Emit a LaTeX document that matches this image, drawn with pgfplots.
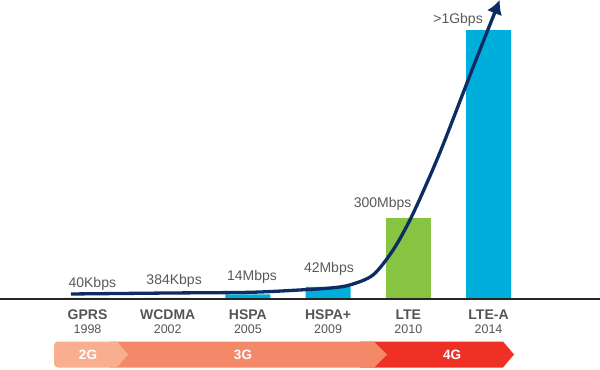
\documentclass[border=0pt]{standalone}
\usepackage{pgfplots}
\pgfplotsset{compat=1.18}
\usepackage{fontspec}
\setmainfont{Liberation Sans}
\usetikzlibrary{arrows.meta}
\definecolor{barblue}{HTML}{00AEDB}
\definecolor{bargreen}{HTML}{86C441}
\definecolor{navy}{HTML}{0C2C63}
\definecolor{valgray}{HTML}{595959}
\definecolor{namegray}{HTML}{555555}
\definecolor{ph2}{HTML}{F9AE8F}
\definecolor{ph3}{HTML}{F4896A}
\definecolor{ph4}{HTML}{EE3124}
\begin{document}
\begin{tikzpicture}[x=1bp,y=1bp]
\path[use as bounding box] (0,-71) rectangle (600,298);
% phase bar
\fill[ph4] (360,-43.5) -- (503,-43.5) -- (514,-56.5) -- (503,-69.5) -- (360,-69.5) -- cycle;
\fill[ph3] (110,-43.5) -- (374,-43.5) -- (387,-56.5) -- (374,-69.5) -- (110,-69.5) -- cycle;
\fill[ph2, rounded corners=4bp] (117,-43.5) -- (58,-43.5) -- (54,-43.5) -- (54,-69.5) -- (117,-69.5) [sharp corners] -- (128,-56.5) -- cycle;
\node[text=white, font=\bfseries\fontsize{13.5bp}{15bp}\selectfont] at (88,-56.5) {2G};
\node[text=white, font=\bfseries\fontsize{13.5bp}{15bp}\selectfont] at (243,-56.5) {3G};
\node[text=white, font=\bfseries\fontsize{13.5bp}{15bp}\selectfont] at (452,-56.5) {4G};
\begin{axis}[
  at={(0,0)}, anchor=south west,
  scale only axis, width=600bp, height=298bp,
  xmin=-1.091, xmax=6.39, ymin=0, ymax=1112,
  axis lines=none, clip=false,
  ybar, bar shift=0pt, bar width=45bp,
]
\addplot[fill=barblue, draw=none] coordinates {(0,0.04) (1,0.384) (2,14) (3,42) (5,1000)};
\addplot[fill=bargreen, draw=none] coordinates {(4,300)};
\draw[color=black!85, line width=1.5bp] (axis cs:-1.091,-3) -- (axis cs:6.39,-3);
\addplot[sharp plot, smooth, navy, line width=3.3bp, -{Latex[length=14bp,width=16bp]}] coordinates {
  (-0.206,15) (1.03,18.7) (2.03,21.3) (2.65,30) (3.02,37) (3.27,48.5) (3.56,86) (3.81,179) (4.02,291) (4.23,428) (4.44,577) (4.81,863) (5.14,1112)};
\tikzset{vl/.style={text=valgray, anchor=base, inner sep=0pt, font=\fontsize{14bp}{16bp}\selectfont}}
\node[vl] at (axis cs:0.06,40) {40Kbps};
\node[vl] at (axis cs:1.08,52) {384Kbps};
\node[vl] at (axis cs:2.05,67) {14Mbps};
\node[vl] at (axis cs:3.01,94) {42Mbps};
\node[vl] at (axis cs:3.68,338) {300Mbps};
\node[vl] at (axis cs:4.62,1025) {>1Gbps};
\tikzset{nm/.style={text=namegray, anchor=base, inner sep=0pt, font=\bfseries\fontsize{14bp}{16bp}\selectfont},
         yr/.style={text=namegray, anchor=base, inner sep=0pt, font=\fontsize{12.5bp}{14bp}\selectfont}}
\node[nm] at (axis cs:0,-80) {GPRS};
\node[nm] at (axis cs:1,-80) {WCDMA};
\node[nm] at (axis cs:2,-80) {HSPA};
\node[nm] at (axis cs:3,-80) {HSPA+};
\node[nm] at (axis cs:4,-80) {LTE};
\node[nm] at (axis cs:5,-80) {LTE-A};
\node[yr] at (axis cs:0,-134) {1998};
\node[yr] at (axis cs:1,-134) {2002};
\node[yr] at (axis cs:2,-134) {2005};
\node[yr] at (axis cs:3,-134) {2009};
\node[yr] at (axis cs:4,-134) {2010};
\node[yr] at (axis cs:5,-134) {2014};
\end{axis}
\end{tikzpicture}
\end{document}
